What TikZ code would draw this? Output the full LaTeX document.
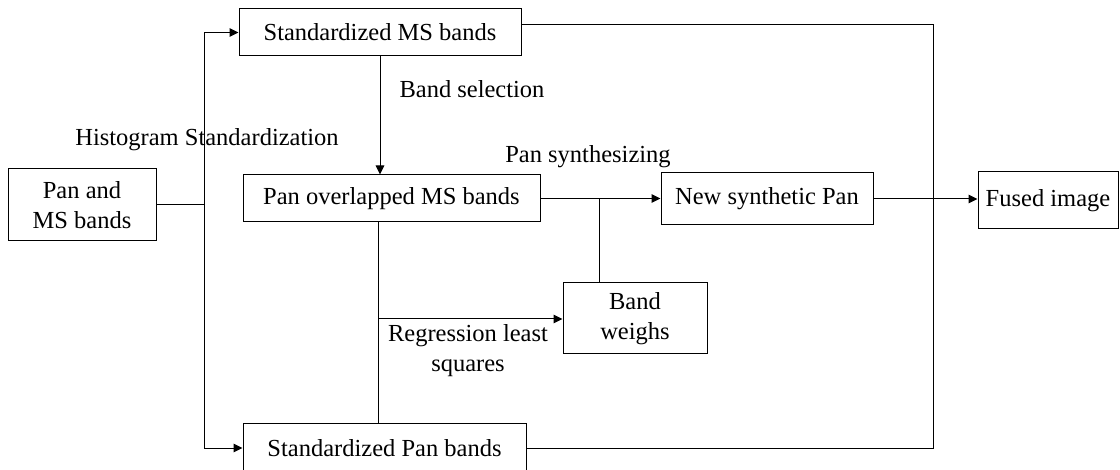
\documentclass[tikz,border=0pt]{standalone}
\usepackage{fontspec}
\setmainfont{Liberation Serif}
\usetikzlibrary{arrows.meta}

\tikzset{
  blk/.style={draw, line width=1pt, inner sep=0pt, align=center,
    font=\fontsize{24.5}{30}\selectfont},
  lbl/.style={inner sep=0pt, align=center, font=\fontsize{24.5}{30}\selectfont},
  flow/.style={line width=1pt, -{Triangle[length=9pt,width=8.5pt]}},
  wire/.style={line width=1pt}
}

\begin{document}
\begin{tikzpicture}[x=1pt, y=-1pt]
    \useasboundingbox (0,0) rectangle (1120,470);
    % Draw the boxes
    \node[blk, minimum width=148pt, minimum height=72pt] (inp) at (82,205) {Pan and\\MS bands};
    \node[blk, minimum width=282pt, minimum height=47pt] (sms) at (380,32.5) {Standardized MS bands};
    \node[blk, minimum width=297pt, minimum height=47pt] (ovl) at (391.5,198.5) {Pan overlapped MS bands};
    \node[blk, minimum width=283pt, minimum height=48pt] (spn) at (384.5,448) {Standardized Pan bands};
    \node[blk, minimum width=212pt, minimum height=52pt] (nsp) at (767,199) {New synthetic Pan};
    \node[blk, minimum width=144pt, minimum height=71pt] (bw) at (635,318.5) {Band\\weighs};
    \node[blk, minimum width=140pt, minimum height=57pt] (fus) at (1048,200.5) {Fused image};
    % Histogram standardization split
    \coordinate (hs) at (204,205);
    \draw[wire] (inp.east) -- (hs);
    \draw[flow] (hs) |- (sms.west);
    \draw[flow] (hs) |- (spn.west);
    \node[lbl] (hlab) at (207,140) {Histogram Standardization};
    % Band selection
    \draw[flow] (sms.south) -- (sms.south |- ovl.north);
    \node[lbl] (bslab) at (472,89) {Band selection};
    % Pan synthesizing
    \draw[flow] (ovl.east) -- (ovl.east -| nsp.west);
    \node[lbl] (pslab) at (588,157) {Pan synthesizing};
    \coordinate (jn) at (599,198.5);
    \draw[wire] (jn) -- (jn |- bw.north);
    % Regression least squares
    \coordinate (rl) at (378,319);
    \draw[wire] (ovl.south -| rl) -- (spn.north -| rl);
    \draw[flow] (rl) -- (rl -| bw.west);
    \node[lbl] (rglab) at (468,351) {Regression least\\squares};
    % Fusion
    \draw[flow] (nsp.east) -- (nsp.east -| fus.west);
    \coordinate (mg) at (933,25);
    \draw[wire] (sms.east |- mg) -- (mg) |- (spn.east);
\end{tikzpicture}
\end{document}
